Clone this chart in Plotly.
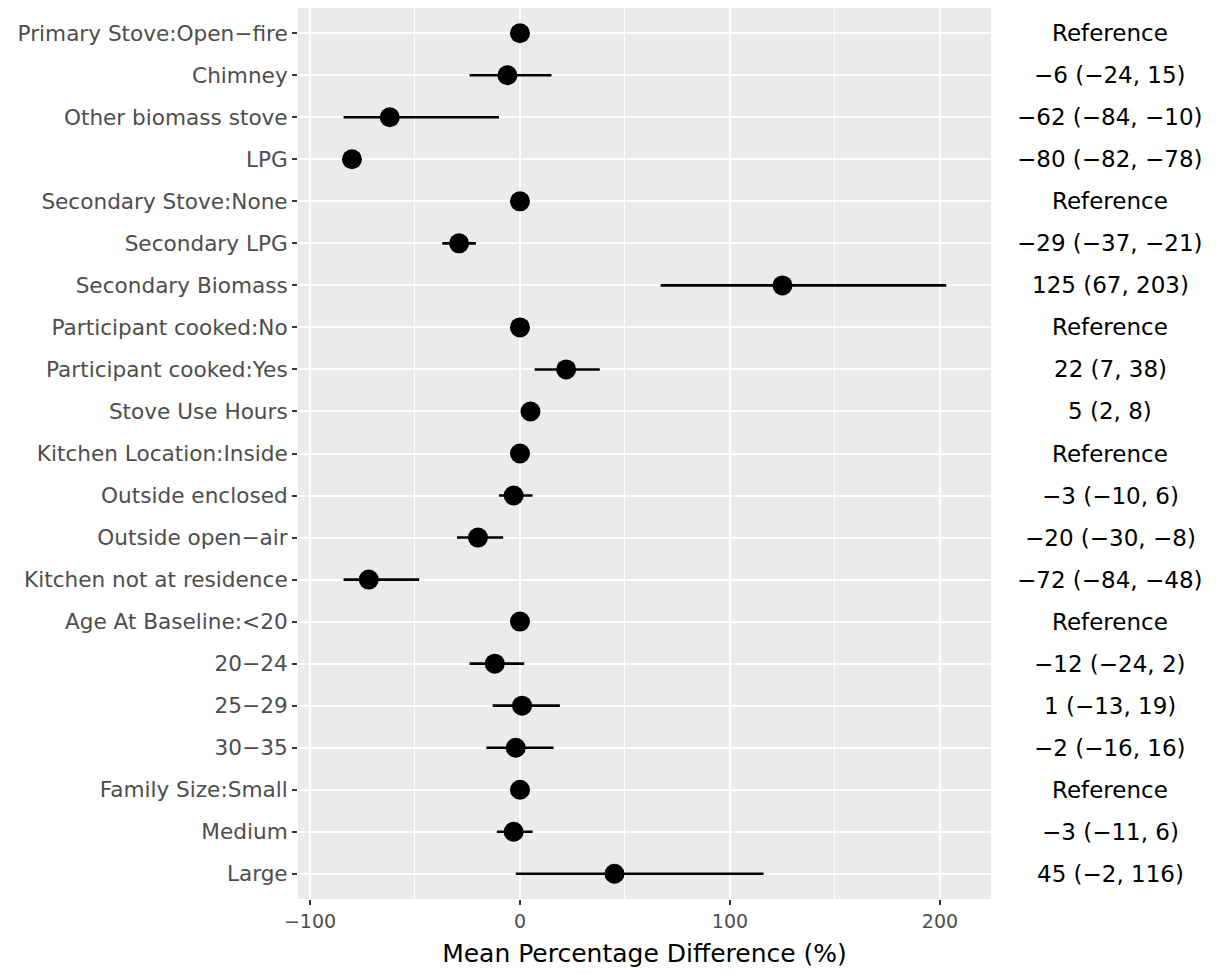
import plotly.graph_objects as go

labels = [
    "Primary Stove:Open−fire", "Chimney", "Other biomass stove", "LPG",
    "Secondary Stove:None", "Secondary LPG", "Secondary Biomass",
    "Participant cooked:No", "Participant cooked:Yes", "Stove Use Hours",
    "Kitchen Location:Inside", "Outside enclosed", "Outside open−air",
    "Kitchen not at residence", "Age At Baseline:<20", "20−24", "25−29",
    "30−35", "Family Size:Small", "Medium", "Large",
]
estimate = [0, -6, -62, -80, 0, -29, 125, 0, 22, 5, 0, -3, -20, -72, 0, -12, 1, -2, 0, -3, 45]
lower = [None, -24, -84, -82, None, -37, 67, None, 7, 2, None, -10, -30, -84, None, -24, -13, -16, None, -11, -2]
upper = [None, 15, -10, -78, None, -21, 203, None, 38, 8, None, 6, -8, -48, None, 2, 19, 16, None, 6, 116]

x_ticks = [-100, 0, 100, 200]
x_minor = [-50, 50, 150]

FONT = "DejaVu Sans, Verdana, sans-serif"


def fmt(v):
    return str(v).replace("-", "−")


right_text = []
for e, lo, hi in zip(estimate, lower, upper):
    if lo is None:
        right_text.append("Reference")
    else:
        right_text.append(f"{fmt(e)} ({fmt(lo)}, {fmt(hi)})")

err_plus = [0 if hi is None else hi - e for e, hi in zip(estimate, upper)]
err_minus = [0 if lo is None else e - lo for e, lo in zip(estimate, lower)]

fig = go.Figure()
fig.add_trace(go.Scatter(
    x=estimate, y=labels, mode="markers",
    marker=dict(size=20, color="black"),
    error_x=dict(type="data", array=err_plus, arrayminus=err_minus,
                 symmetric=False, color="black", thickness=2.6, width=0),
    showlegend=False, hoverinfo="x+y",
))

fig.add_shape(type="line", xref="x", yref="paper", x0=0, x1=0, y0=0, y1=1,
              line=dict(color="black", width=2, dash="dot"), layer="below")

for lab, txt in zip(labels, right_text):
    fig.add_annotation(x=1.172, xref="paper", y=lab, yref="y", text=txt,
                       showarrow=False, xanchor="center", yanchor="middle",
                       font=dict(size=23, color="black", family=FONT))

fig.update_layout(
    width=1216, height=966,
    margin=dict(l=290, r=233, t=0, b=75, autoexpand=False),
    paper_bgcolor="white", plot_bgcolor="#EBEBEB",
    font=dict(family=FONT),
    xaxis=dict(
        range=[-105.7, 224.3], tickvals=x_ticks,
        ticktext=[fmt(v) for v in x_ticks],
        showgrid=True, gridcolor="white", gridwidth=2,
        zeroline=False, ticks="outside", ticklen=5, tickwidth=1.5, tickcolor="#333333",
        tickfont=dict(size=19, color="#4D4D4D"),
        minor=dict(tickvals=x_minor, showgrid=True, gridcolor="white", gridwidth=1, ticks=""),
        title=dict(text="Mean Percentage Difference (%)", font=dict(size=25, color="black"), standoff=13),
        showline=False,
    ),
    yaxis=dict(
        type="category", categoryorder="array", categoryarray=labels,
        range=[20.6, -0.6],
        showgrid=True, gridcolor="white", gridwidth=2,
        ticks="outside", ticklen=5, tickwidth=1.5, tickcolor="#333333",
        tickfont=dict(size=21.6, color="#4D4D4D"),
        showline=False, zeroline=False,
    ),
)

fig.write_html("out.html")
